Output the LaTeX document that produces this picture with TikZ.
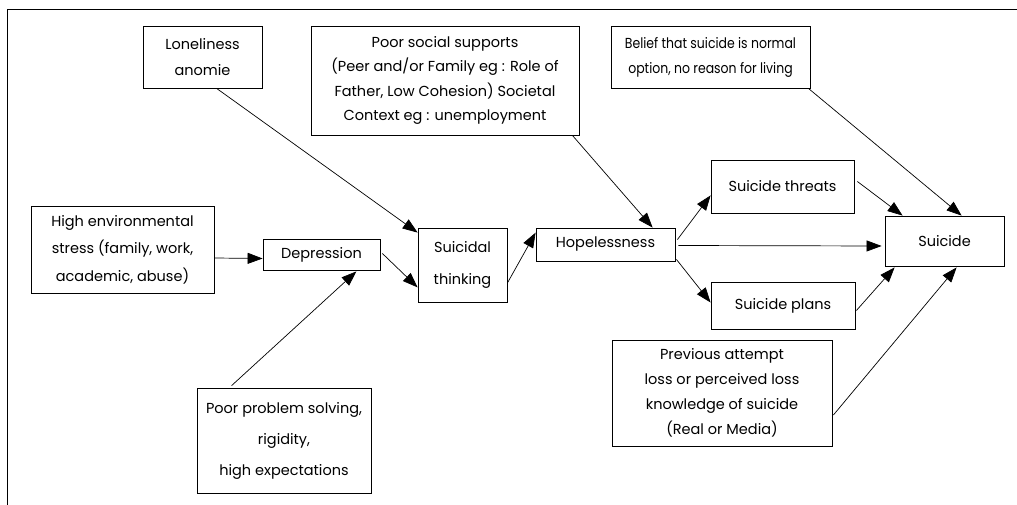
\documentclass[tikz,border=0pt]{standalone}
\usepackage{fontspec}
\setmainfont{Poppins}
\newfontfamily\narrowpop[FakeStretch=0.86]{Poppins}
\usetikzlibrary{arrows.meta,calc}
\tikzset{
  box/.style={draw, line width=0.8pt, inner sep=0pt, align=center, anchor=center,
    font=\fontsize{14.5}{25}\selectfont},
  arr/.style={line width=0.7pt, -{Triangle[length=15pt,width=11pt]}},
  frame/.style={line width=0.8pt}
}
\begin{document}
\begin{tikzpicture}[x=1pt,y=-1pt]
\useasboundingbox (0,0) rectangle (1017,505);
\draw[frame] (1017,9) -- (7,9) -- (7,505);

\node[box, minimum width=119pt, minimum height=62pt, font=\fontsize{14.5}{26}\selectfont] (lon) at (202.5,57) {Loneliness\\anomie};
\node[box, minimum width=268pt, minimum height=109pt, font=\fontsize{14.5}{24.5}\selectfont] (soc) at (445,80.5) {Poor social supports\\(Peer and/or Family eg : Role of\\Father, Low Cohesion) Societal\\Context eg : unemployment};
\node[box, minimum width=199pt, minimum height=62pt, font=\narrowpop\fontsize{14.5}{25}\selectfont] (bel) at (710.5,57) {Belief that suicide is normal\\option, no reason for living};
\node[box, minimum width=183pt, minimum height=87pt, font=\fontsize{14.5}{27.5}\selectfont] (str) at (122.5,249.5) {High environmental\\stress (family, work,\\academic, abuse)};
\node[box, minimum width=117pt, minimum height=31pt] (dep) at (321.5,254.5) {Depression};
\node[box, minimum width=89pt, minimum height=74pt, font=\fontsize{14.5}{32}\selectfont] (thk) at (462.5,265) {Suicidal\\thinking};
\node[box, minimum width=139pt, minimum height=33pt] (hop) at (605.5,244.5) {Hopelessness};
\node[box, minimum width=143pt, minimum height=53pt] (thr) at (782.5,186.5) {Suicide threats};
\node[box, minimum width=119pt, minimum height=50pt] (sui) at (944.5,241) {Suicide};
\node[box, minimum width=144pt, minimum height=47pt] (pln) at (783,305.5) {Suicide plans};
\node[box, minimum width=220pt, minimum height=106pt] (prv) at (722,393) {Previous attempt\\loss or perceived loss\\knowledge of suicide\\(Real or Media)};
\node[box, minimum width=174pt, minimum height=105pt, font=\fontsize{14.5}{31}\selectfont] (prb) at (284,440.5) {Poor problem solving,\\rigidity,\\high expectations};

\draw[arr] ($(lon.south west)+(74,0)$) -- ($(thk.north west)+(0,5)$);
\draw[arr] ($(soc.south east)+(-7,0)$) -- ($(hop.north west)+(117,0)$);
\draw[arr] ($(bel.south east)+(-2,0)$) -- ($(sui.north west)+(77,0)$);
\draw[arr] ($(str.east)+(0,8.5)$) -- ($(dep.west)+(0,4)$);
\draw[arr] ($(dep.east)+(2,-1)$) -- ($(thk.south west)+(0,-15)$);
\draw[arr] ($(prb.north west)+(35,-2)$) -- ($(dep.south east)+(-24,1)$);
\draw[arr] ($(thk.east)+(0,18)$) -- ($(hop.north west)+(0,5)$);
\draw[arr] ($(hop.north east)+(2,12)$) -- ($(thr.south west)+(0,-18)$);
\draw[arr] ($(hop.east)+(3,1)$) -- ($(sui.west)+(-3,5)$);
\draw[arr] ($(hop.south east)+(1,-2)$) -- ($(pln.west)+(0,-3)$);
\draw[arr] ($(thr.east)+(3,-5)$) -- ($(sui.north west)+(18,0)$);
\draw[arr] ($(pln.east)+(1,5)$) -- ($(sui.south west)+(10,1)$);
\draw[arr] ($(prv.east)+(1,22)$) -- ($(sui.south west)+(72,1)$);
\end{tikzpicture}
\end{document}
